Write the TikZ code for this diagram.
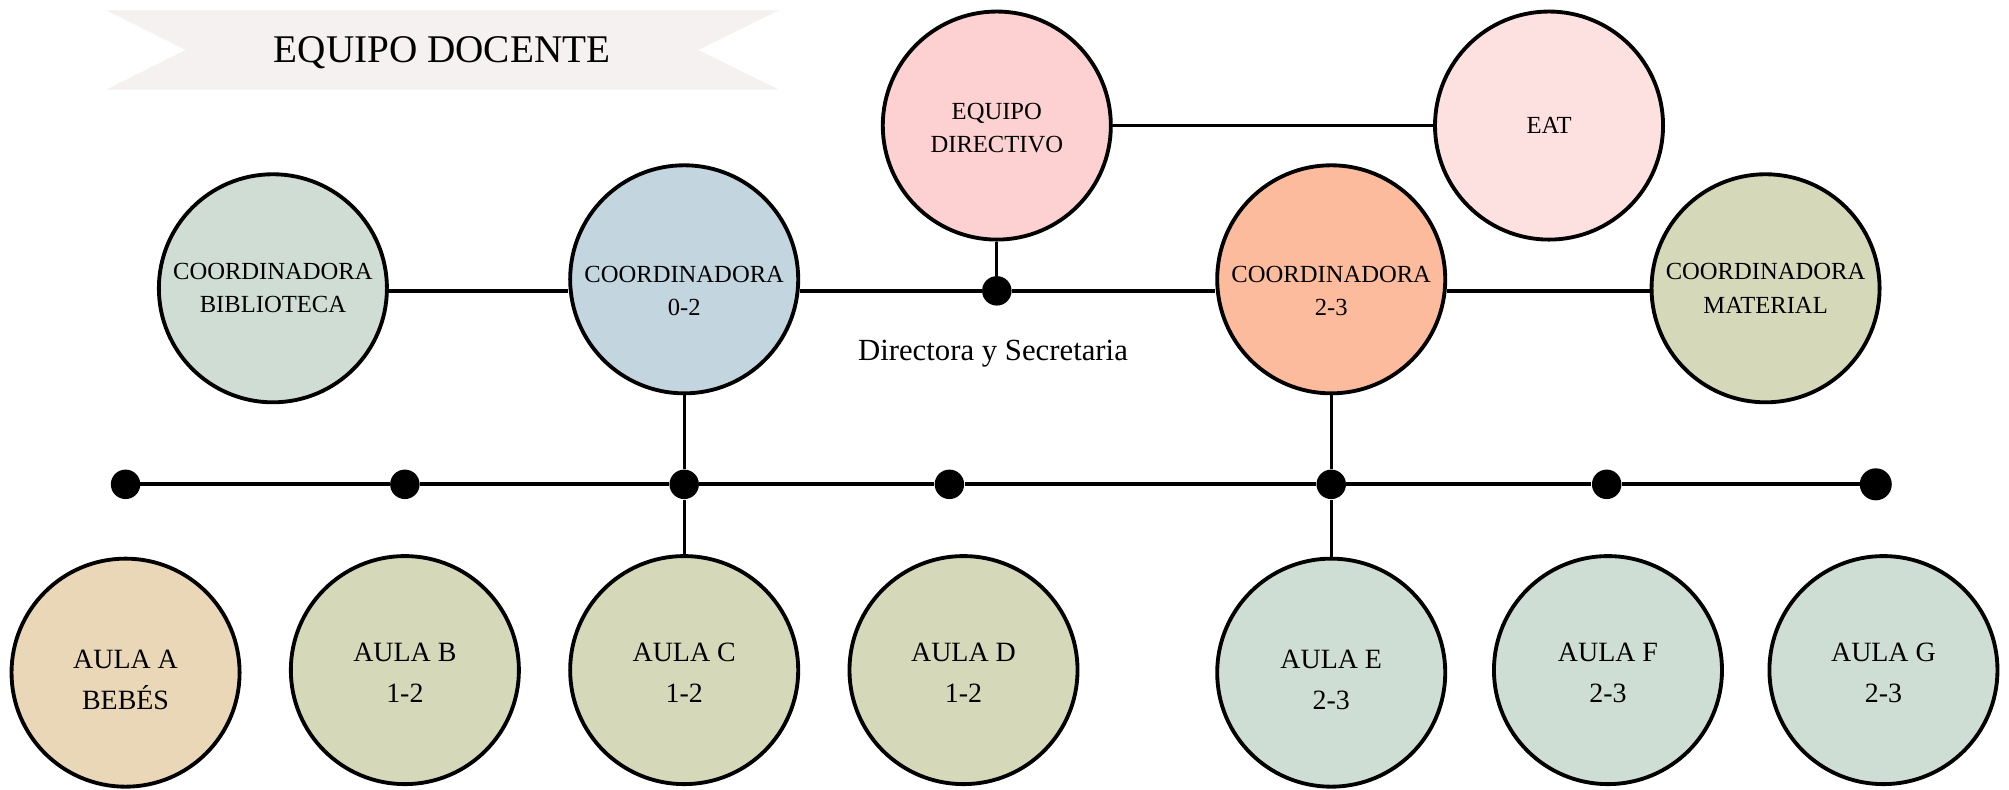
\documentclass[tikz,border=0pt]{standalone}
\usepackage{fontspec}
\setmainfont{Liberation Serif}
\definecolor{banner}{HTML}{F4F1F0}
\definecolor{cbib}{HTML}{CFDDD4}
\definecolor{czero}{HTML}{C3D5DF}
\definecolor{cdir}{HTML}{FDD0D1}
\definecolor{ceat}{HTML}{FDE0E0}
\definecolor{cdos}{HTML}{FDBB9E}
\definecolor{cmat}{HTML}{D6D9B9}
\definecolor{caulaa}{HTML}{EAD7B8}
\definecolor{caulab}{HTML}{D5D9B9}
\definecolor{caulae}{HTML}{CFDED5}
\tikzset{
  bubble/.style={circle, draw=black, line width=1.5pt, minimum size=89pt, inner sep=0pt},
  smalltxt/.style={align=center, font=\fontsize{9.6}{13}\selectfont, inner sep=0pt},
  bigtxt/.style={align=center, font=\fontsize{10.9}{16}\selectfont, inner sep=0pt},
  dot/.style={circle, fill=black, minimum size=11.5pt, inner sep=0pt},
  thick line/.style={line width=1.5pt},
  thin line/.style={line width=1.1pt},
}
\begin{document}
\begin{tikzpicture}[x=0.5pt,y=-0.5pt]
\useasboundingbox (0,0) rectangle (1568,616);
% banner
\fill[banner] (83,8) -- (608,8) -- (545,39) -- (608,70) -- (83,70) -- (145,39) -- cycle;
\node[font=\fontsize{15.3}{18}\selectfont] (title) at (345,41) {EQUIPO DOCENTE};
% top row
\node[bubble, fill=cdir, label={[smalltxt, yshift=-1pt]center:EQUIPO\\DIRECTIVO}] (dir) at (778,98) {};
\node[bubble, fill=ceat, label={[smalltxt]center:EAT}] (eat) at (1209,98) {};
% middle row
\node[bubble, fill=cbib, label={[smalltxt]center:COORDINADORA\\BIBLIOTECA}] (bib) at (213,225) {};
\node[bubble, fill=czero, label={[smalltxt, yshift=-4.5pt]center:COORDINADORA\\0-2}] (c02) at (534,218) {};
\node[bubble, fill=cdos, label={[smalltxt, yshift=-4.5pt]center:COORDINADORA\\2-3}] (c23) at (1039,218) {};
\node[bubble, fill=cmat, label={[smalltxt]center:COORDINADORA\\MATERIAL}] (mat) at (1378,225) {};
\node[dot] (ddir) at (778,227) {};
\node[font=\fontsize{12}{14}\selectfont] (dirsec) at (775,276) {Directora y Secretaria};
% bottom row
\node[bubble, fill=caulaa, label={[bigtxt, yshift=-3pt]center:AULA A\\BEBÉS}] (aa) at (98,525) {};
\node[bubble, fill=caulab, label={[bigtxt, yshift=-1pt]center:AULA B\\1-2}] (ab) at (316,523) {};
\node[bubble, fill=caulab, label={[bigtxt, yshift=-1pt]center:AULA C\\1-2}] (ac) at (534,523) {};
\node[bubble, fill=caulab, label={[bigtxt, yshift=-1pt]center:AULA D\\1-2}] (ad) at (752,523) {};
\node[bubble, fill=caulae, label={[bigtxt, yshift=-3pt]center:AULA E\\2-3}] (ae) at (1039,525) {};
\node[bubble, fill=caulae, label={[bigtxt, yshift=-1pt]center:AULA F\\2-3}] (af) at (1255,523) {};
\node[bubble, fill=caulae, label={[bigtxt, yshift=-1pt]center:AULA G\\2-3}] (ag) at (1470,523) {};
% dots on the line
\node[dot] (d1) at (98,378) {};
\node[dot] (d2) at (316,378) {};
\node[dot] (d3) at (534,378) {};
\node[dot] (d4) at (741,378) {};
\node[dot] (d5) at (1039,378) {};
\node[dot] (d6) at (1254,378) {};
\node[dot, minimum size=12.5pt] (d7) at (1464,378) {};
% connectors
\draw[thick line] (d1.center) -- (d2) -- (d3) -- (d4) -- (d5) -- (d6) -- (d7.center);
\draw[thick line] (dir.east) -- (eat.west);
\draw[thick line] (bib.east |- ddir) -- (c02.west |- ddir);
\draw[thick line] (c02.east |- ddir) -- (ddir) -- (c23.west |- ddir);
\draw[thick line] (c23.east |- ddir) -- (mat.west |- ddir);
\draw[thin line] (dir.south) -- (ddir);
\draw[thin line] (c02.south) -- (d3) -- (ac.north);
\draw[thin line] (c23.south) -- (d5) -- (ae.north);
\end{tikzpicture}
\end{document}
